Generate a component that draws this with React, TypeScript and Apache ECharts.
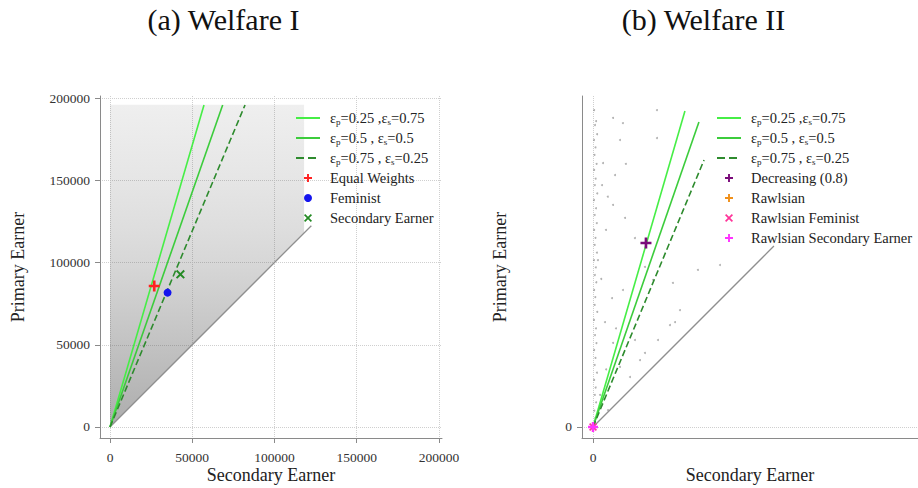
import { useEffect, useRef } from 'react';
import * as echarts from 'echarts';

// ---------- data ----------
const panelTitles = ['(a) Welfare I', '(b) Welfare II'];
const xAxisTitle = 'Secondary Earner';
const yAxisTitle = 'Primary Earner';
const leftTicks = [0, 50000, 100000, 150000, 200000];
const rightTicks = [0];

const rayNames = ['εp=0.25 ,εs=0.75', 'εp=0.5 , εs=0.5', 'εp=0.75 , εs=0.25'];
const leftRayEnds = [[57150, 195800], [68500, 195800], [82100, 195800]];
const rightRayEnds = [[55900, 192100], [64400, 185400], [67500, 162300]];
const leftDiagonalEnd = [122400, 122400];
const rightDiagonalEnd = [110000, 110000];

const leftMarkerNames = ['Equal Weights', 'Feminist', 'Secondary Earner'];
const leftMarkerPoints = [[26900, 85700], [35000, 81700], [42800, 92800]];
const rightMarkerNames = ['Decreasing (0.8)', 'Rawlsian', 'Rawlsian Feminist', 'Rawlsian Secondary Earner'];
const rightMarkerPoints = [[32200, 111900], [0, 0], [0, 0], [0, 0]];

// outline of the left-panel household cloud and its density by height
const cloudOutline = [[0, 0], [0, 196000], [118000, 196000], [118000, 118000]];
const cloudDensityY = [0, 20000, 50000, 80000, 100000, 120000, 150000, 196000];
const cloudDensity = [0.52, 0.46, 0.38, 0.3, 0.25, 0.21, 0.16, 0.1];

// sparse households in the right panel
const rightDots = [
  [700, 192700], [1900, 186000], [1200, 183600], [2500, 178000], [600, 174500], [1500, 170000],
  [900, 165400], [2200, 160000], [700, 156300], [1600, 151000], [1100, 147100], [2600, 142000],
  [600, 138000], [1800, 133000], [1000, 128900], [2300, 124000], [700, 119800], [1500, 115000],
  [1000, 110700], [2400, 106000], [600, 101500], [1700, 97000], [1100, 92400], [2000, 88000],
  [700, 83300], [1400, 79000], [1000, 74200], [2600, 70000], [600, 65100], [1800, 60000],
  [1200, 55900], [2100, 51000], [700, 46800], [1500, 42000], [1000, 37700], [2400, 33000],
  [700, 28600], [1600, 24000], [1100, 19500], [1900, 15000], [800, 10000], [1400, 5500],
  [12200, 187900], [18200, 184800], [38900, 175700], [38900, 192700], [6100, 160500], [13400, 153200],
  [5500, 147100], [12200, 135000], [19500, 127100], [25500, 114900], [31600, 97300], [11600, 78400],
  [18200, 83300], [46800, 62000], [49900, 63800], [52900, 71100], [39500, 52900], [31600, 45000],
  [28600, 40700], [22500, 30400], [16400, 36500], [12200, 51100], [7300, 63800], [63800, 95500],
  [48600, 87600], [36500, 89400], [4300, 19500], [9100, 10300], [7900, 119800], [3000, 101500],
  [16400, 174500], [77200, 98500], [25500, 52900], [9000, 140000], [20000, 160000], [5000, 90000],
  [14000, 60000], [8000, 35000],
];

// ---------- styles ----------
const FONT = 'Liberation Serif';
const rayColors = ['#46ee46', '#3ccc3c', '#2e8b2e'];
const rayTypes = ['solid', 'solid', 'dashed'];
const PLUS = 'path://M3.8,0L6.2,0L6.2,3.8L10,3.8L10,6.2L6.2,6.2L6.2,10L3.8,10L3.8,6.2L0,6.2L0,3.8L3.8,3.8Z';
const CROSS = 'path://M0,1.5L1.5,0L5,3.5L8.5,0L10,1.5L6.5,5L10,8.5L8.5,10L5,6.5L1.5,10L0,8.5L3.5,5Z';
const leftMarkerStyles = [
  { symbol: PLUS, size: 11, color: '#ff2222' },
  { symbol: 'circle', size: 8, color: '#1414ee' },
  { symbol: CROSS, size: 9, color: '#238a23' },
];
const rightMarkerStyles = [
  { symbol: PLUS, size: 11, color: '#7a0a7a' },
  { symbol: PLUS, size: 9, color: '#f0901a' },
  { symbol: CROSS, size: 8, color: '#ff3399' },
  { symbol: PLUS, size: 10, color: '#ff33ff' },
];

function valueAxis(gridIndex: number, min: number, max: number, ticks: number[], name: string, isY: boolean) {
  return {
    type: 'value',
    gridIndex,
    min,
    max,
    name,
    nameLocation: 'middle',
    nameGap: isY ? 73 : 28,
    nameMoveOverlap: false,
    nameTextStyle: { fontFamily: FONT, fontSize: 18, color: '#222' },
    axisLine: { show: true, onZero: false, lineStyle: { color: '#8a8a8a', width: 1 } },
    axisTick: { show: true, inside: false, length: 5, lineStyle: { color: '#8a8a8a' }, customValues: ticks },
    axisLabel: {
      show: true,
      customValues: ticks,
      formatter: (v: number) => String(v),
      margin: isY ? 10 : 12,
      fontFamily: FONT,
      fontSize: 13.5,
      color: '#333',
      hideOverlap: false,
    },
    splitLine: { show: true, lineStyle: { color: '#cfcfcf', type: 'dotted', width: 1 } },
  };
}

function legendFormatter(name: string) {
  const m = name.match(/^εp(.*?)εs(.*)$/);
  if (m) return `{f|ε}{s|p}{n|${m[1]}ε}{s|s}{n|${m[2]}}`;
  return `{f|${name}}`;
}

const legendRich = {
  f: { fontFamily: FONT, fontSize: 14.5, color: '#222', padding: [0, 0, 0, 5], lineHeight: 16 },
  n: { fontFamily: FONT, fontSize: 14.5, color: '#222', lineHeight: 16 },
  s: { fontFamily: FONT, fontSize: 9, color: '#222', lineHeight: 9, verticalAlign: 'bottom' },
};

export default function App() {
  const ref = useRef<HTMLDivElement>(null);
  useEffect(() => {
    document.body.style.margin = '0';
    const chart = echarts.init(ref.current!, null, { renderer: 'svg' });

    const series: any[] = [];
    const yTop = cloudDensityY[cloudDensityY.length - 1];
    const stops = cloudDensityY
      .map((y, i) => ({ offset: 1 - y / yTop, color: `rgba(95,95,95,${cloudDensity[i]})` }))
      .sort((a, b) => a.offset - b.offset);
    series.push({
      type: 'custom',
      xAxisIndex: 0,
      yAxisIndex: 0,
      silent: true,
      z: 1,
      data: [[0, 0]],
      renderItem: (_p: any, api: any) => ({
        type: 'polygon',
        shape: { points: cloudOutline.map((pt) => api.coord(pt)) },
        style: { fill: new echarts.graphic.LinearGradient(0, 0, 0, 1, stops), stroke: 'none' },
      }),
    });
    series.push({
      type: 'scatter',
      name: 'households',
      xAxisIndex: 1,
      yAxisIndex: 1,
      silent: true,
      symbol: 'circle',
      symbolSize: 2,
      itemStyle: { color: 'rgba(80,80,80,0.55)' },
      data: rightDots,
      z: 1,
    });
    [leftDiagonalEnd, rightDiagonalEnd].forEach((end, gi) => {
      series.push({
        type: 'line',
        name: 'diag' + gi,
        xAxisIndex: gi,
        yAxisIndex: gi,
        silent: true,
        symbol: 'none',
        data: [[0, 0], end],
        lineStyle: { color: '#8f8f8f', width: 1.3 },
        z: 2,
      });
    });
    [leftRayEnds, rightRayEnds].forEach((ends, gi) => {
      ends.forEach((end, i) => {
        series.push({
          type: 'line',
          name: rayNames[i],
          xAxisIndex: gi,
          yAxisIndex: gi,
          symbol: 'none',
          showSymbol: false,
          data: [[0, 0], end],
          itemStyle: { color: rayColors[i] },
          lineStyle: { color: rayColors[i], width: 1.6, type: rayTypes[i] },
          z: 3,
        });
      });
    });
    leftMarkerNames.forEach((nm, i) => {
      const st = leftMarkerStyles[i];
      series.push({
        type: 'scatter',
        name: nm,
        xAxisIndex: 0,
        yAxisIndex: 0,
        symbol: st.symbol,
        symbolSize: st.size,
        itemStyle: { color: st.color, opacity: 1 },
        data: [leftMarkerPoints[i]],
        z: 4,
      });
    });
    rightMarkerNames.forEach((nm, i) => {
      const st = rightMarkerStyles[i];
      series.push({
        type: 'scatter',
        name: nm,
        xAxisIndex: 1,
        yAxisIndex: 1,
        symbol: st.symbol,
        symbolSize: st.size,
        itemStyle: { color: st.color, opacity: 1 },
        data: [rightMarkerPoints[i]],
        z: 4,
      });
    });

    const rayLegendItems = rayNames.map((n) => ({ name: n, itemStyle: { opacity: 0 } }));
    const legendBase = {
      orient: 'vertical',
      top: 105,
      itemWidth: 24,
      itemHeight: 8,
      itemGap: 4,
      selectedMode: false,
      formatter: legendFormatter,
      textStyle: { fontFamily: FONT, fontSize: 14.5, color: '#222', lineHeight: 16, rich: legendRich },
    };

    chart.setOption({
      animation: false,
      backgroundColor: '#fff',
      grid: [
        { left: 100, top: 96, width: 342, height: 342, containLabel: false, outerBoundsMode: 'none' },
        { left: 582, top: 96, width: 336, height: 342, containLabel: false, outerBoundsMode: 'none' },
      ],
      xAxis: [
        valueAxis(0, -6080, 201850, leftTicks, xAxisTitle, false),
        valueAxis(1, -6690, 197600, rightTicks, xAxisTitle, false),
      ],
      yAxis: [
        valueAxis(0, -6690, 201250, leftTicks, yAxisTitle, true),
        valueAxis(1, -6690, 201250, rightTicks, yAxisTitle, true),
      ],
      legend: [
        { ...legendBase, left: 290, data: [...rayLegendItems, ...leftMarkerNames] },
        { ...legendBase, left: 711, data: [...rayLegendItems, ...rightMarkerNames] },
      ],
      graphic: panelTitles.map((t, i) => ({
        type: 'text',
        x: i === 0 ? 223.5 : 703.5,
        y: 4,
        style: {
          text: t,
          fontFamily: FONT,
          fontSize: 30,
          fill: '#111',
          align: 'center',
          textAlign: 'center',
          verticalAlign: 'top',
        },
      })),
      series,
    });
    return () => chart.dispose();
  }, []);
  return <div ref={ref} style={{ width: 918, height: 488 }} />;
}
